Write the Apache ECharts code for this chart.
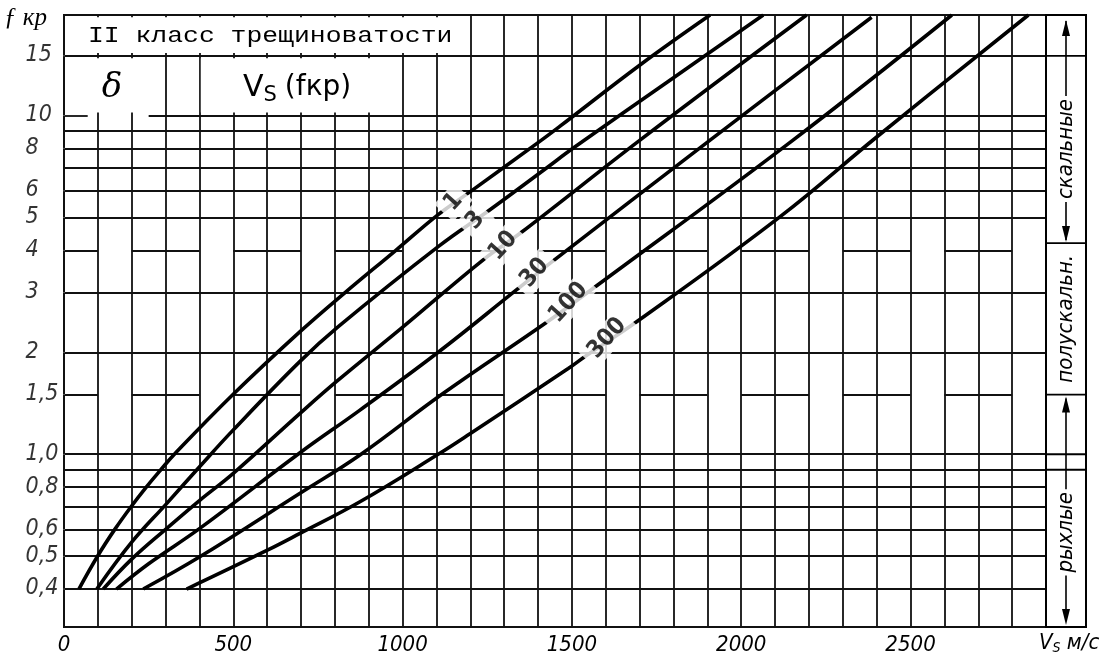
<!DOCTYPE html>
<html>
<head>
<meta charset="utf-8">
<script src="https://cdn.jsdelivr.net/npm/echarts@6.0.0/dist/echarts.min.js"></script>
<style>
html, body { margin: 0; background: #fff; }
#wrap { width: 1102px; height: 658px; }
</style>
</head>
<body>
<div id="wrap"></div>
<script>
// Vs(fкр) для II класса трещиноватости, кривые по δ
var curveNames = ['1', '3', '10', '30', '100', '300'];
var curve1 = [[44,0.4],[99,0.5],[150,0.6],[198,0.7],[243,0.8],[286,0.9],[326,1.0],[499,1.5],[697,2.3],[830,3.0],[980,4.0],[1105,5.1],[1199,5.95],[1406,8.4],[1465,9.3],[1701,14.1],[1908,19.8]];
var curve3 = [[97,0.4],[200,0.55],[303,0.715],[401,0.92],[500,1.18],[697,1.88],[810,2.38],[1105,4.1],[1258,5.27],[1425,7.0],[1503,8.0],[1799,12.9],[2065,19.8]];
var curve10 = [[116,0.4],[200,0.49],[300,0.6],[400,0.73],[500,0.878],[697,1.32],[805,1.64],[1002,2.38],[1238,3.75],[1347,4.49],[1701,8.46],[2193,19.8]];
var curve30 = [[155,0.4],[250,0.475],[401,0.604],[697,1.01],[874,1.35],[1105,2.0],[1337,3.06],[1435,3.66],[1908,8.46],[2385,19.5]];
var curve100 = [[234,0.4],[401,0.498],[697,0.767],[874,0.995],[1115,1.5],[1435,2.49],[1563,3.09],[2153,8.46],[2622,19.8]];
var curve300 = [[362,0.4],[599,0.52],[697,0.584],[874,0.724],[1105,1.0],[1199,1.15],[1489,1.79],[1544,1.96],[1691,2.46],[2115,5.03],[2400,8.64],[2848,19.8]];
var curves = [curve1, curve3, curve10, curve30, curve100, curve300];

// где подписаны кривые
var labelPos = [[1150,5.55],[1215,4.9],[1297,4.12],[1390,3.43],[1490,2.8],[1604,2.2]];

var yTicks = [15, 10, 8, 6, 5, 4, 3, 2, 1.5, 1, 0.8, 0.6, 0.5, 0.4];
var yTickText = ['15', '10', '8', '6', '5', '4', '3', '2', '1,5', '1,0', '0,8', '0,6', '0,5', '0,4'];
var xLabelStep = 500;

// сетка
var hFull = [0.4, 0.5, 0.6, 0.7, 0.8, 0.9, 1, 2, 3, 5, 6, 7, 8, 9, 15];
var hBroken = [1.5, 4];
var brokenSegs = [[0,100],[200,400],[500,700],[800,1000],[1100,1300],[1400,1600],[1700,1900],[2000,2200],[2300,2500],[2600,2800]];
var tenSegs = [[0,70],[250,2900]];

var vMax = 2900, fMin = 0.309, fMax = 19.8;

var segs = [];
hFull.forEach(function (f) { segs.push([{ coord: [0, f] }, { coord: [vMax, f] }]); });
hBroken.forEach(function (f) {
  brokenSegs.forEach(function (s) { segs.push([{ coord: [s[0], f] }, { coord: [s[1], f] }]); });
});
tenSegs.forEach(function (s) { segs.push([{ coord: [s[0], 10] }, { coord: [s[1], 10] }]); });

var narrow = '"Liberation Sans Narrow", "DejaVu Sans Condensed", "Liberation Sans", sans-serif';
var italic = 'italic 22px ' + narrow;
var ink = '#000';

var series = [
  {
    type: 'line', data: [], silent: true,
    markLine: {
      silent: true, symbol: 'none', z: 1,
      label: { show: false },
      lineStyle: { color: '#111', width: 1.8, type: 'solid' },
      emphasis: { disabled: true },
      data: segs
    }
  },
  {
    type: 'line', data: [], silent: true,
    markArea: {
      silent: true, z: 2,
      itemStyle: { color: '#fff', opacity: 1 },
      data: [
        [{ coord: [4, 15.3] }, { coord: [1195, 19.5] }],
        [{ coord: [4, 10.2] }, { coord: [296, 14.75] }],
        [{ coord: [404, 10.2] }, { coord: [996, 14.75] }]
      ]
    }
  }
];

curves.forEach(function (c, i) {
  series.push({
    name: curveNames[i], type: 'line', data: c, z: 3,
    smooth: 0.4, showSymbol: false, symbol: 'none',
    lineStyle: { color: ink, width: 3.6 }
  });
});

series.push({
  type: 'scatter', z: 10, symbolSize: 1, clip: false, silent: true,
  itemStyle: { color: '#fff' },
  data: labelPos.map(function (p, i) { return { name: curveNames[i], value: p }; }),
  label: {
    show: true, position: 'inside', formatter: '{b}', rotate: 48,
    color: ink, fontSize: 24, fontWeight: 'bold', fontFamily: narrow,
    textBorderWidth: 0, backgroundColor: '#fff', padding: [1, 7]
  }
});

series.push({
  type: 'scatter', z: 10, symbolSize: 1, clip: false, silent: true,
  itemStyle: { color: '#fff' },
  data: yTicks.map(function (f, i) { return { name: yTickText[i], value: [0, f] }; }),
  label: {
    show: true, position: [-38, 0], formatter: '{b}', align: 'left', verticalAlign: 'middle',
    color: ink, fontSize: 23, fontStyle: 'italic', fontFamily: narrow, textBorderWidth: 0
  }
});

var option = {
  animation: false,
  backgroundColor: '#fff',
  grid: { left: 64, right: 56, top: 15, bottom: 31, show: true, borderColor: '#111', borderWidth: 2 },
  xAxis: {
    type: 'value', min: 0, max: vMax, interval: 100,
    axisLine: { lineStyle: { color: '#111', width: 2 } },
    axisTick: { show: false },
    splitLine: { show: true, lineStyle: { color: '#111', width: 1.8 } },
    axisLabel: {
      color: ink, fontSize: 22, fontStyle: 'italic', margin: 7, fontFamily: narrow,
      formatter: function (v) { return v % xLabelStep === 0 ? String(v) : ''; }
    }
  },
  yAxis: {
    type: 'log', logBase: 10, min: fMin, max: fMax,
    axisLine: { show: true, lineStyle: { color: '#111', width: 2 } },
    axisTick: { show: false }, axisLabel: { show: false },
    splitLine: { show: false }, minorSplitLine: { show: false }
  },
  series: series
};

var myChart = echarts.init(document.getElementById('wrap'));
myChart.setOption(option);

// подписи и боковая шкала
function py(f) { return myChart.convertToPixel({ gridIndex: 0 }, [0, f])[1]; }
var pL = 1046, pR = 1086, pC = 1066, pTop = 15, pBot = 627;
var yTop15 = py(15), yRock = py(4.2), y15 = py(1.5), y10 = py(1.0), y09 = py(0.9);
function ln(x1, y1, x2, y2, w) {
  return { type: 'line', z: 20, shape: { x1: x1, y1: y1, x2: x2, y2: y2 }, style: { stroke: ink, lineWidth: w || 1.8 } };
}
function arrow(x, y, dir) {
  return { type: 'polygon', z: 20, shape: { points: [[x, y], [x - 4, y - 16 * dir], [x + 4, y - 16 * dir]] }, style: { fill: ink } };
}
function vtext(t, y) {
  return { type: 'text', z: 21, x: pC, y: y, rotation: Math.PI / 2,
    style: { text: t, font: italic, fill: ink, align: 'center', verticalAlign: 'middle', backgroundColor: '#fff', padding: [0, 3] } };
}

myChart.setOption({
  graphic: [
    { type: 'rect', z: 19, shape: { x: pL, y: pTop, width: pR - pL, height: pBot - pTop }, style: { fill: '#fff', stroke: ink, lineWidth: 2 } },
    ln(pL, yTop15, pR, yTop15),
    ln(pL, yRock, pR, yRock),
    ln(pL, y15, pR, y15),
    ln(pL, y10, pR, y10),
    ln(pL, y09, pR, y09),
    ln(pC, pTop + 6, pC, yRock - 3, 1.6),
    arrow(pC, pTop + 5, -1),
    arrow(pC, yRock - 1, 1),
    ln(pC, y15 + 4, pC, pBot - 6, 1.6),
    arrow(pC, y15 + 2, -1),
    arrow(pC, pBot - 2, 1),
    vtext('скальные', (pTop + yRock) / 2 + 20),
    vtext('полускальн.', (yRock + y15) / 2),
    vtext('рыхлые', (y09 + pBot) / 2 - 16),
    { type: 'text', z: 21, x: 4, y: 18,
      style: { text: 'ƒ кр', font: 'italic 25px "Liberation Serif", "DejaVu Serif", serif', fill: ink, verticalAlign: 'middle' } },
    { type: 'text', z: 21, x: 88, y: 36, scaleX: 1.2,
      style: { text: 'II класс трещиноватости', font: '22px "Liberation Mono", "DejaVu Sans Mono", monospace', fill: ink, verticalAlign: 'middle' } },
    { type: 'text', z: 21, x: 112, y: 88,
      style: { text: 'δ', font: 'italic 34px "DejaVu Serif", serif', fill: ink, align: 'center', verticalAlign: 'middle' } },
    { type: 'text', z: 21, x: 243, y: 88,
      style: { text: '{v|V}{s|S}{p|(fкр)}', verticalAlign: 'middle', fill: ink,
        rich: {
          v: { font: '30px "DejaVu Sans", sans-serif', fill: ink },
          s: { font: '21px "DejaVu Sans", sans-serif', fill: ink, padding: [16, 8, 0, 0] },
          p: { font: '28px "DejaVu Sans", sans-serif', fill: ink }
        } } },
    { type: 'text', z: 21, x: 1039, y: 643,
      style: { text: '{v|V}{s|S}{m| м/с}', verticalAlign: 'middle', fill: ink,
        rich: {
          v: { font: italic, fill: ink },
          s: { font: 'italic 14px ' + narrow, fill: ink, padding: [10, 0, 0, 0] },
          m: { font: italic, fill: ink }
        } } }
  ]
});
</script>
</body>
</html>
